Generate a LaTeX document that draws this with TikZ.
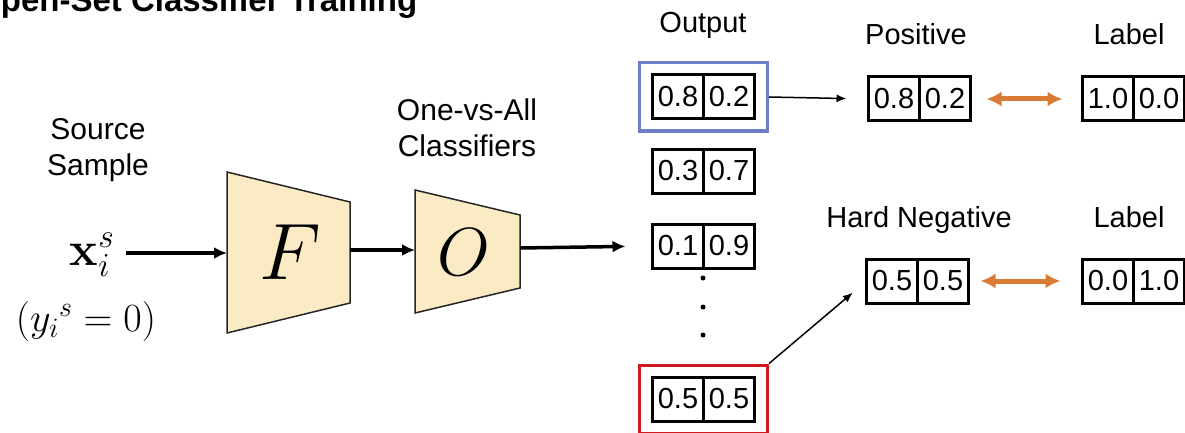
\documentclass[tikz,border=0pt]{standalone}
\usepackage{fix-cm}
\usepackage[no-math]{fontspec}
\setmainfont{Liberation Sans}
\usetikzlibrary{arrows.meta,positioning,fit}

\definecolor{beige}{HTML}{FBEBC5}
\definecolor{swaporange}{HTML}{DA7B35}
\definecolor{posblue}{HTML}{6C7FC6}
\definecolor{negred}{HTML}{D0191F}

\tikzset{
    cell/.style={draw, line width=3pt, minimum width=51pt, minimum height=44pt, inner sep=0, outer sep=0, font=\fontsize{29}{33}\selectfont},
    head/.style={font=\fontsize{29}{33}\selectfont, inner sep=0},
    frame/.style={line width=3pt, inner xsep=13pt, inner ysep=12pt},
    net/.style={draw=black!85, fill=beige, line width=1.5pt},
    flow/.style={-{Latex[length=13pt,width=12pt]}, line width=3.5pt},
    link/.style={-{Latex[length=10pt,width=8pt]}, line width=1.5pt},
    match/.style={{Latex[length=15pt,width=15pt]}-{Latex[length=15pt,width=15pt]}, draw=swaporange, line width=5pt}
    }

\begin{document}
\begin{tikzpicture}[x=1pt, y=-1pt]
                \useasboundingbox (0,0) rectangle (1185,433);
                \clip (0,0) rectangle (1185,433);
                % Title
                \node (title)[anchor=base west, inner sep=0, font=\bfseries\fontsize{33}{38}\selectfont] at (-25,12) {Open-Set Classifier Training};
                % The Input
                \node (src)[head, align=center, font=\fontsize{30}{36}\selectfont] at (98,150) {Source\\Sample};
                \node (xs)[inner sep=4pt, font=\fontsize{48}{54}\selectfont] at (92,255) {$\mathbf{x}_i^s$};
                \node (ys)[font=\fontsize{40}{46}\selectfont] at (86,321) {$({y_i}^s=0)$};
                % The Networks
                \draw[net] (227,172) -- (350,202) -- (350,303) -- (227,333) -- cycle;
                \node (F)[font=\fontsize{80}{90}\selectfont] at (290,252) {$F$};
                \draw[net] (415,190) -- (520,215) -- (520,288) -- (415,313) -- cycle;
                \node (O)[font=\fontsize{68}{76}\selectfont] at (464,252) {$O$};
                \node (ova)[head, align=center, font=\fontsize{30}{36}\selectfont] at (467,128) {One-vs-All\\Classifiers};
                \coordinate (fin) at (227,253);
                \coordinate (fout) at (350,250);
                \coordinate (oin) at (415,250);
                \coordinate (oout) at (520,248);
                % The Outputs
                \node (out)[head, anchor=base] at (703,33) {Output};
                \node (o1a)[cell] at (678,97) {0.8};
                \node (o1b)[cell, right=0pt of o1a] {0.2};
                \node (o2a)[cell] at (678,171) {0.3};
                \node (o2b)[cell, right=0pt of o2a] {0.7};
                \node (o3a)[cell] at (678,246) {0.1};
                \node (o3b)[cell, right=0pt of o3a] {0.9};
                \node (o4a)[cell] at (678,399) {0.5};
                \node (o4b)[cell, right=0pt of o4a] {0.5};
                \foreach \y in {278,307,335}
                    \fill (703,\y) circle (2.5);
                \node (pos)[frame, draw=posblue, fit=(o1a)(o1b)] {};
                \node (neg)[frame, draw=negred, fit=(o4a)(o4b)] {};
                % Positive and Hard Negative
                \node (ph)[head, anchor=base] at (916,45) {Positive};
                \node (p1a)[cell] at (894,99) {0.8};
                \node (p1b)[cell, right=0pt of p1a] {0.2};
                \node (lh1)[head, anchor=base] at (1129,45) {Label};
                \node (l1a)[cell] at (1108,99) {1.0};
                \node (l1b)[cell, right=0pt of l1a] {0.0};
                \node (nh)[head, anchor=base] at (919,227) {Hard Negative};
                \node (n1a)[cell] at (892,281) {0.5};
                \node (n1b)[cell, right=0pt of n1a] {0.5};
                \node (lh2)[head, anchor=base] at (1129,227) {Label};
                \node (l2a)[cell] at (1108,281) {0.0};
                \node (l2b)[cell, right=0pt of l2a] {1.0};
                % The Arrows
                \draw[flow, shorten <=8pt] (xs.east |- fin) -- (fin);
                \draw[flow] (fout) -- (oin);
                \draw[flow] (oout) -- (o3a.west) [shorten >=27pt];
                \draw[link, shorten >=22pt] (pos.east) -- (p1a.west);
                \draw[link, shorten >=18pt] (neg.north east) -- (n1a.west);
                \draw[match, shorten <=16pt, shorten >=20pt] (p1b.east) -- (l1a.west);
                \draw[match, shorten <=12pt, shorten >=22pt] (n1b.east) -- (l2a.west);
            \end{tikzpicture}
\end{document}
